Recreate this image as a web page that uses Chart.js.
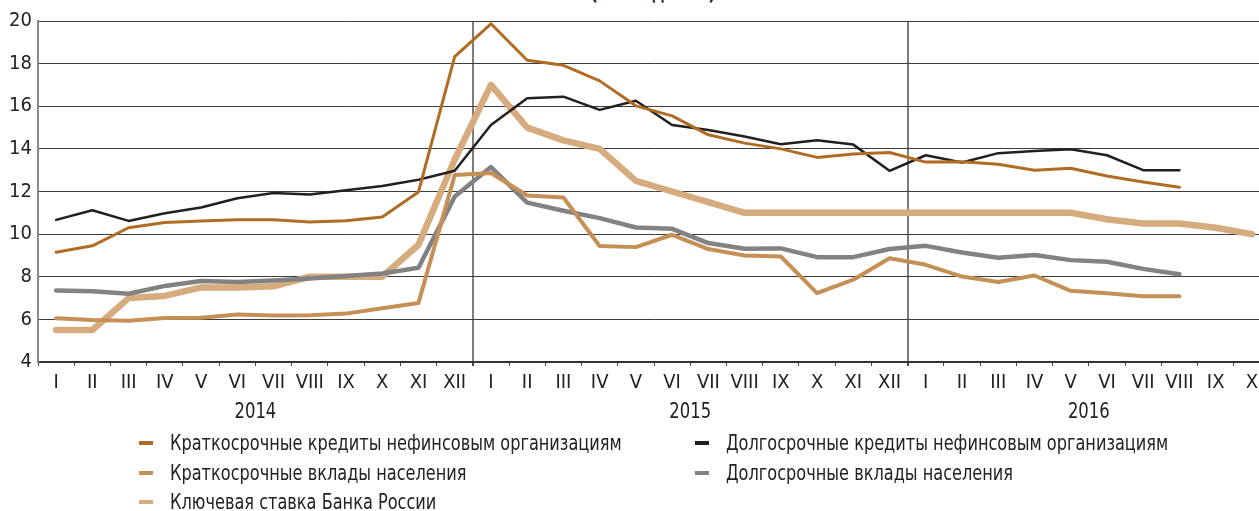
<!DOCTYPE html>
<html>
<head>
<meta charset="utf-8">
<script src="https://cdn.jsdelivr.net/npm/chart.js@4"></script>
<style>
body{margin:0;width:1259px;height:511px;overflow:hidden;position:relative;background:#fff;font-family:"DejaVu Sans Condensed","Liberation Sans",sans-serif;color:#222;}
#wrap{position:absolute;left:0;top:0;width:1270px;height:511px;}
#title{position:absolute;left:653px;top:-17px;font-size:20px;font-weight:bold;line-height:20px;white-space:nowrap;transform:translateX(-50%) scaleX(0.85);}
.item{position:absolute;font-size:21px;line-height:24px;white-space:nowrap;transform:scaleX(0.855);transform-origin:0 50%;}
.mark{position:absolute;width:14px;height:4px;}
</style>
</head>
<body>
<div id="title">(в % годовых)</div>
<div id="wrap"><canvas id="chart" width="1270" height="511"></canvas></div>
<div id="legend"></div>
<script>
// categories
const months = ['I','II','III','IV','V','VI','VII','VIII','IX','X','XI','XII'];
const labels = months.concat(months, months.slice(0, 10));
const years = [].concat(Array(12).fill('2014'), Array(12).fill('2015'), Array(10).fill('2016'));

// series values, % per year
const shortLoans = [9.15, 9.45, 10.3, 10.55, 10.62, 10.68, 10.68, 10.57, 10.63, 10.8, 11.98, 18.33,
  19.87, 18.16, 17.92, 17.19, 16.02, 15.55, 14.66, 14.27, 14.0, 13.6, 13.76, 13.83,
  13.38, 13.4, 13.28, 13.0, 13.09, 12.73, 12.45, 12.2, null, null];
const longLoans = [10.67, 11.12, 10.62, 10.98, 11.25, 11.68, 11.93, 11.86, 12.06, 12.26, 12.55, 12.97,
  15.12, 16.38, 16.45, 15.83, 16.26, 15.12, 14.89, 14.58, 14.22, 14.41, 14.2, 12.97,
  13.7, 13.36, 13.8, 13.9, 13.98, 13.7, 13.0, 13.0, null, null];
const shortDeposits = [6.05, 5.97, 5.93, 6.07, 6.08, 6.23, 6.18, 6.19, 6.27, 6.52, 6.77, 12.77,
  12.87, 11.81, 11.72, 9.44, 9.39, 9.97, 9.3, 9.0, 8.95, 7.23, 7.86, 8.87,
  8.56, 8.01, 7.75, 8.06, 7.34, 7.23, 7.09, 7.09, null, null];
const longDeposits = [7.35, 7.32, 7.2, 7.57, 7.8, 7.75, 7.82, 7.92, 8.03, 8.15, 8.42, 11.76,
  13.15, 11.48, 11.1, 10.75, 10.31, 10.25, 9.58, 9.31, 9.33, 8.92, 8.92, 9.3,
  9.45, 9.14, 8.89, 9.02, 8.78, 8.7, 8.37, 8.12, null, null];
const keyRate = [5.5, 5.5, 7.0, 7.1, 7.5, 7.5, 7.55, 8.0, 8.0, 8.0, 9.5, 13.5,
  17.0, 15.0, 14.4, 14.0, 12.5, 12.0, 11.5, 11.0, 11.0, 11.0, 11.0, 11.0,
  11.0, 11.0, 11.0, 11.0, 11.0, 10.7, 10.5, 10.5, 10.3, 10.0];

// y axis ticks
const yMin = 4, yMax = 20, yStep = 2;

const FONT = '"DejaVu Sans Condensed", "Liberation Sans", sans-serif';

const series = [
  {name:'Краткосрочные кредиты нефинсовым организациям', data:shortLoans, color:'#b16c24', width:3, order:1, col:0, row:0},
  {name:'Долгосрочные кредиты нефинсовым организациям', data:longLoans, color:'#231f20', width:2.5, order:2, col:1, row:0},
  {name:'Краткосрочные вклады населения', data:shortDeposits, color:'#c58f55', width:4, order:3, col:0, row:1},
  {name:'Долгосрочные вклады населения', data:longDeposits, color:'#828282', width:4.5, order:4, col:1, row:1},
  {name:'Ключевая ставка Банка России', data:keyRate, color:'#d6ab7e', width:6.5, order:5, col:0, row:2}
];

// year labels under the month ticks
const yearLabels = {
  id:'yearLabels',
  afterDraw(chart){
    let ctx = chart.ctx;
    let x = chart.scales.x;
    let done = [];
    years.forEach(y => {
      if(done.includes(y)) return;
      done.push(y);
      let first = years.indexOf(y), last = years.lastIndexOf(y);
      let cx = (x.getPixelForValue(first) + x.getPixelForValue(last)) / 2;
      ctx.save();
      ctx.translate(cx, 413);
      ctx.scale(0.87, 1);
      ctx.font = '21px ' + FONT;
      ctx.fillStyle = '#222';
      ctx.textAlign = 'center';
      ctx.textBaseline = 'middle';
      ctx.fillText(y, 0, 0);
      ctx.restore();
    });
  }
};

new Chart(document.getElementById('chart'), {
  type:'line',
  data:{
    labels:labels,
    datasets:series.map(s => ({
      label:s.name,
      data:s.data,
      borderColor:s.color,
      borderWidth:s.width,
      order:s.order,
      pointRadius:0,
      tension:0,
      fill:false,
      borderJoinStyle:'round',
      borderCapStyle:'round'
    }))
  },
  options:{
    responsive:false,
    animation:false,
    layout:{padding:{top:21, right:0, bottom:111, left:0}},
    plugins:{legend:{display:false}, tooltip:{enabled:false}, title:{display:false}},
    scales:{
      x:{
        offset:true,
        grid:{
          offset:true,
          color:c => (c.index === 12 || c.index === 24) ? '#7d7d7d' : 'rgba(0,0,0,0)',
          lineWidth:c => (c.index === 12 || c.index === 24) ? 2 : 1,
          tickColor:'#444',
          tickLength:4
        },
        border:{color:'#333', width:1.5},
        ticks:{autoSkip:false, maxRotation:0, color:'#222', padding:5, font:{family:FONT, size:20}},
        afterFit(scale){ scale.height = 38; }
      },
      y:{
        min:yMin, max:yMax,
        grid:{color:'#3c3c3c', lineWidth:1, drawTicks:false},
        border:{color:'#888', width:2},
        ticks:{stepSize:yStep, color:'#222', padding:6, font:{family:FONT, size:20}},
        afterFit(scale){ scale.width = 38; }
      }
    }
  },
  plugins:[yearLabels]
});

// legend in two columns
const legend = document.getElementById('legend');
const colX = [139, 695];
const rowY = [443, 473, 502];
series.forEach(s => {
  let m = document.createElement('div');
  m.className = 'mark';
  m.style.background = s.color;
  m.style.left = colX[s.col] + 'px';
  m.style.top = (rowY[s.row] - 2) + 'px';
  legend.appendChild(m);
  let t = document.createElement('div');
  t.className = 'item';
  t.textContent = s.name;
  t.style.left = (colX[s.col] + 31) + 'px';
  t.style.top = (rowY[s.row] - 12) + 'px';
  legend.appendChild(t);
});
</script>
</body>
</html>
